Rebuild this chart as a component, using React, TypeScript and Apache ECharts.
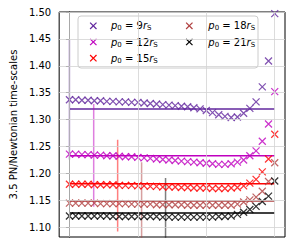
import React, { useEffect, useRef } from "react";
import * as echarts from "echarts";

// ---- data ----
const seriesNames = ["9", "12", "15", "18", "21"];
const seriesColors = ["#62279e", "#bf00bf", "#ff0000", "#b04040", "#000000"];
const errColors = [
  "rgba(98,39,158,0.5)",
  "rgba(191,0,191,0.5)",
  "rgba(255,0,0,0.5)",
  "rgba(176,64,64,0.5)",
  "rgba(0,0,0,0.5)",
];

// point index along the (unlabelled) x axis
const pointIndex = [
  0, 1, 2, 3, 4, 5, 6, 7, 8, 9, 10, 11, 12, 13, 14, 15, 16, 17, 18, 19, 20, 21,
  22, 23, 24, 25, 26, 27, 28, 29, 30, 31, 32, 33,
];

const ratioP9 = [
  1.337, 1.337, 1.336, 1.336, 1.335, 1.335, 1.334, 1.334, 1.333, 1.333, 1.332,
  1.332, 1.331, 1.33, 1.329, 1.328, 1.327, 1.326, 1.325, 1.324, 1.322, 1.32,
  1.317, 1.313, 1.309, 1.306, 1.304, 1.305, 1.312, 1.321, 1.333, 1.361, 1.409,
  1.497,
];
const ratioP12 = [
  1.236, 1.236, 1.235, 1.235, 1.234, 1.234, 1.233, 1.233, 1.232, 1.231, 1.231,
  1.23, 1.229, 1.228, 1.227, 1.226, 1.225, 1.224, 1.223, 1.222, 1.221, 1.22,
  1.219, 1.218, 1.217, 1.217, 1.218, 1.221, 1.225, 1.233, 1.242, 1.26, 1.292,
  1.352,
];
const ratioP15 = [
  1.18, 1.18, 1.18, 1.18, 1.179, 1.179, 1.179, 1.179, 1.178, 1.178, 1.178,
  1.177, 1.177, 1.176, 1.176, 1.175, 1.175, 1.175, 1.174, 1.174, 1.173, 1.173,
  1.173, 1.172, 1.172, 1.172, 1.173, 1.174, 1.177, 1.182, 1.189, 1.203, 1.227,
  1.273,
];
const ratioP18 = [
  1.145, 1.145, 1.145, 1.145, 1.145, 1.144, 1.144, 1.144, 1.144, 1.144, 1.143,
  1.143, 1.143, 1.143, 1.142, 1.142, 1.142, 1.142, 1.142, 1.141, 1.141, 1.141,
  1.141, 1.141, 1.141, 1.141, 1.141, 1.143, 1.147, 1.151, 1.156, 1.167, 1.185,
  1.22,
];
const ratioP21 = [
  1.121, 1.121, 1.121, 1.121, 1.121, 1.121, 1.121, 1.12, 1.12, 1.12, 1.12, 1.12,
  1.12, 1.12, 1.12, 1.119, 1.119, 1.119, 1.119, 1.119, 1.119, 1.119, 1.119,
  1.119, 1.12, 1.12, 1.121, 1.124, 1.128, 1.133, 1.139, 1.148, 1.158, 1.186,
];
const allRatios = [ratioP9, ratioP12, ratioP15, ratioP18, ratioP21];

// horizontal reference level for each series
const plateau = [1.32, 1.233, 1.181, 1.149, 1.1265];
const plateauStart = 0;
const plateauEnd = 33;

// vertical error bars
const errX = [0, 3.9, 7.75, 11.6, 15.45];
const errLow = [1.226, 1.138, 1.0924, 1.068, 1.05];
const errHigh = [1.448, 1.329, 1.2625, 1.221, 1.1914];

// axes
const yTicks = [1.1, 1.15, 1.2, 1.25, 1.3, 1.35, 1.4, 1.45, 1.5];
const xGrid = [0, 11, 22, 33];
const yMin = 1.082;
const yMax = 1.5;
const xMin = -1.65;
const xMax = 34.65;

const FONT = "DejaVu Sans";
const CROSS = "path://M0,0L10,10M10,0L0,10";

function legendLabel(n: string) {
  return `{i|p}{s|0}{n| = ${n}}{i|r}{s|S}`;
}

const rich = {
  i: { fontFamily: FONT, fontSize: 10, fontStyle: "italic", lineHeight: 14, fill: "#000" },
  n: { fontFamily: FONT, fontSize: 10, lineHeight: 14, fill: "#000" },
  s: { fontFamily: FONT, fontSize: 7, lineHeight: 14, padding: [5, 0, 0, 0], fill: "#000" },
};

function legendItem(k: number, cx: number, tx: number, cy: number) {
  const c = seriesColors[k];
  const h = 3.2;
  return [
    { type: "line", shape: { x1: cx - h, y1: cy - h, x2: cx + h, y2: cy + h }, style: { stroke: c, lineWidth: 1.2 } },
    { type: "line", shape: { x1: cx - h, y1: cy + h, x2: cx + h, y2: cy - h }, style: { stroke: c, lineWidth: 1.2 } },
    {
      type: "text",
      x: tx,
      y: cy,
      style: {
        text: legendLabel(seriesNames[k]),
        rich,
        fontFamily: FONT,
        fontSize: 10,
        fill: "#000",
        align: "left",
        verticalAlign: "middle",
      },
    },
  ];
}

export default function App() {
  const ref = useRef<HTMLDivElement>(null);
  useEffect(() => {
    document.body.style.margin = "0";
    if (!ref.current) return;
    const chart = echarts.init(ref.current, undefined, { renderer: "svg" });

    const series: any[] = [];
    // grid lines
    series.push({
      type: "line",
      data: [],
      z: 1,
      silent: true,
      markLine: {
        silent: true,
        animation: false,
        symbol: ["none", "none"],
        label: { show: false },
        lineStyle: { color: "#d3d3d3", width: 0.8, type: "solid" },
        data: [...xGrid.map((v) => ({ xAxis: v })), ...yTicks.map((v) => ({ yAxis: v }))],
      },
    });

    allRatios.forEach((vals, k) => {
      series.push({
        name: seriesNames[k],
        type: "scatter",
        z: 3,
        symbol: CROSS,
        symbolSize: 7,
        itemStyle: { color: "transparent", borderColor: seriesColors[k], borderWidth: 1.25 },
        data: vals.map((v, i) => [pointIndex[i], v]),
      });
      series.push({
        type: "line",
        z: 3,
        showSymbol: false,
        symbol: "none",
        lineStyle: { color: seriesColors[k], width: 1.5 },
        data: [
          [plateauStart, plateau[k]],
          [plateauEnd, plateau[k]],
        ],
      });
      series.push({
        type: "line",
        z: 3,
        showSymbol: false,
        symbol: "none",
        lineStyle: { color: errColors[k], width: 1.5 },
        data: [
          [errX[k], errLow[k]],
          [errX[k], errHigh[k]],
        ],
      });
    });

    const rowsY = [25.8, 42, 58.2];
    const legendChildren: any[] = [
      {
        type: "rect",
        shape: { x: 78, y: 16, width: 180, height: 52, r: 3 },
        style: { fill: "rgba(255,255,255,0.8)", stroke: "#cccccc", lineWidth: 1 },
      },
      ...legendItem(0, 93.3, 111, rowsY[0]),
      ...legendItem(1, 93.3, 111, rowsY[1]),
      ...legendItem(2, 93.3, 111, rowsY[2]),
      ...legendItem(3, 189.3, 208.3, rowsY[0]),
      ...legendItem(4, 189.3, 208.3, rowsY[1]),
    ];

    chart.setOption({
      animation: false,
      grid: {
        left: 52,
        right: 7,
        top: 12,
        bottom: 9,
        show: true,
        borderColor: "#000",
        borderWidth: 1,
        backgroundColor: "transparent",
      },
      xAxis: {
        type: "value",
        min: xMin,
        max: xMax,
        axisLine: { show: false },
        axisTick: { show: false },
        axisLabel: { show: false },
        splitLine: { show: false },
      },
      yAxis: {
        type: "value",
        min: yMin,
        max: yMax,
        name: "3.5 PN/Newtonian time-scales",
        nameLocation: "middle",
        nameGap: 33,
        nameTextStyle: { fontFamily: FONT, fontSize: 10, color: "#000" },
        axisLine: { show: true, lineStyle: { color: "#000", width: 1 } },
        axisTick: {
          show: true,
          customValues: yTicks,
          length: 3.5,
          lineStyle: { color: "#000", width: 0.8 },
        },
        axisLabel: {
          customValues: yTicks,
          margin: 8,
          fontFamily: FONT,
          fontSize: 10,
          color: "#000",
          formatter: (v: number) => v.toFixed(2),
        },
        splitLine: { show: false },
      },
      graphic: [{ type: "group", z: 100, children: legendChildren }],
      series,
    });
    return () => chart.dispose();
  }, []);
  return <div ref={ref} style={{ width: 292, height: 246 }} />;
}
